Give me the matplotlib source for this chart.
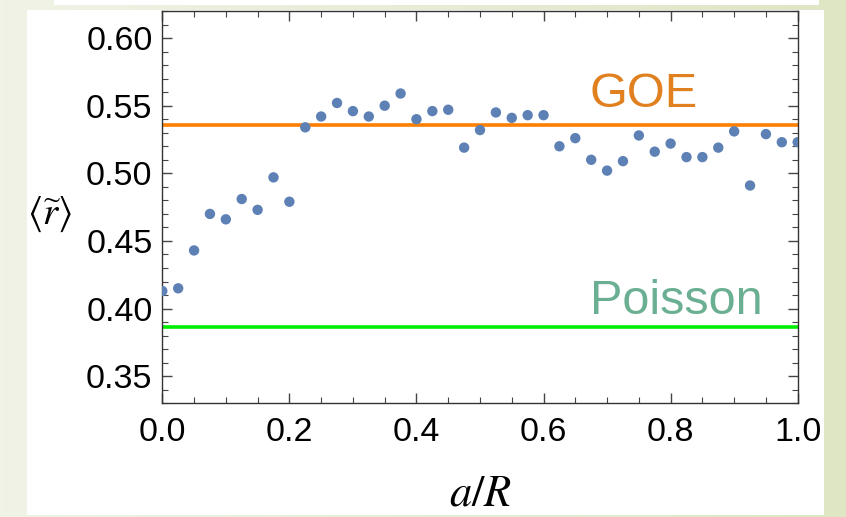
import numpy as np
import matplotlib
matplotlib.use("Agg")
import matplotlib.pyplot as plt
from matplotlib.patches import Rectangle
from matplotlib.colors import LinearSegmentedColormap
from matplotlib.ticker import MultipleLocator

plt.rcParams['font.family'] = ['Liberation Sans', 'DejaVu Sans']
plt.rcParams['mathtext.fontset'] = 'stix'

# data
a_over_R = np.arange(41) * 0.025
r_mean = [0.413, 0.415, 0.443, 0.470, 0.466, 0.481, 0.473, 0.497, 0.479,
          0.534, 0.542, 0.552, 0.546, 0.542, 0.550, 0.559, 0.540, 0.546,
          0.547, 0.519, 0.532, 0.545, 0.541, 0.543, 0.543, 0.520, 0.526,
          0.510, 0.502, 0.509, 0.528, 0.516, 0.522, 0.512, 0.512, 0.519,
          0.531, 0.491, 0.529, 0.523, 0.523]
goe_value = 0.5359
poisson_value = 0.3863

W, H = 846, 517
fig = plt.figure(figsize=(W / 100, H / 100), dpi=100)

# pale green slide background with white panel
bg = fig.add_axes([0, 0, 1, 1], zorder=-10)
cmap = LinearSegmentedColormap.from_list("bg", ["#f0f3e6", "#dee6c4"])
bg.imshow(np.linspace(0, 1, 256)[None, :], aspect='auto', cmap=cmap,
          extent=[0, 1, 0, 1])
bg.add_patch(Rectangle((27 / W, 1 - 515 / H), (824 - 27) / W, (515 - 9.5) / H,
                       facecolor='white', edgecolor='none'))
bg.add_patch(Rectangle((54 / W, 1 - 4.5 / H), (819 - 54) / W, 4.5 / H,
                       facecolor='white', edgecolor='none'))
bg.set_xlim(0, 1)
bg.set_ylim(0, 1)
bg.axis('off')

ax = fig.add_axes([162.3 / W, 1 - 403.3 / H, (797.7 - 162.3) / W, (403.3 - 11) / H])
ax.set_facecolor('none')

ax.axhline(goe_value, color='#ff7f00', lw=2.6, zorder=2)
ax.axhline(poisson_value, color='#00ee00', lw=2.6, zorder=2)
ax.scatter(a_over_R, r_mean, s=56, color='#5e81b5', edgecolors='none', zorder=3)

ax.text(0.673, 0.5492, 'GOE', color='#e0801f', fontsize=35, va='baseline')
ax.text(0.673, 0.3961, 'Poisson', color='#6aaf92', fontsize=35, va='baseline')

ax.set_xlim(0, 1.0)
ax.set_ylim(0.33, 0.62)
ax.xaxis.set_major_locator(MultipleLocator(0.2))
ax.xaxis.set_minor_locator(MultipleLocator(0.05))
ax.yaxis.set_major_locator(MultipleLocator(0.05))
ax.yaxis.set_minor_locator(MultipleLocator(0.01))
ax.xaxis.set_major_formatter(matplotlib.ticker.FormatStrFormatter('%.1f'))
ax.yaxis.set_major_formatter(matplotlib.ticker.FormatStrFormatter('%.2f'))
ax.tick_params(which='both', direction='in', top=True, right=True,
               color='#444444', labelsize=24.5)
ax.tick_params(which='major', length=7, width=1)
ax.tick_params(which='minor', length=4, width=0.8)
ax.tick_params(axis='x', pad=10)
ax.tick_params(axis='y', pad=7)
ax.tick_params(labeltop=False, labelright=False)
for s in ax.spines.values():
    s.set_color('#333333')
    s.set_linewidth(1.0)

fig.text(480 / W, 1 - 505 / H, r'$a/R$', fontsize=32, ha='center', va='baseline')
fig.text(50 / W, 1 - 214 / H, r'$\langle\widetilde{r}\rangle$', fontsize=28,
         ha='center', va='center')

fig.savefig('out.png', dpi=100)
